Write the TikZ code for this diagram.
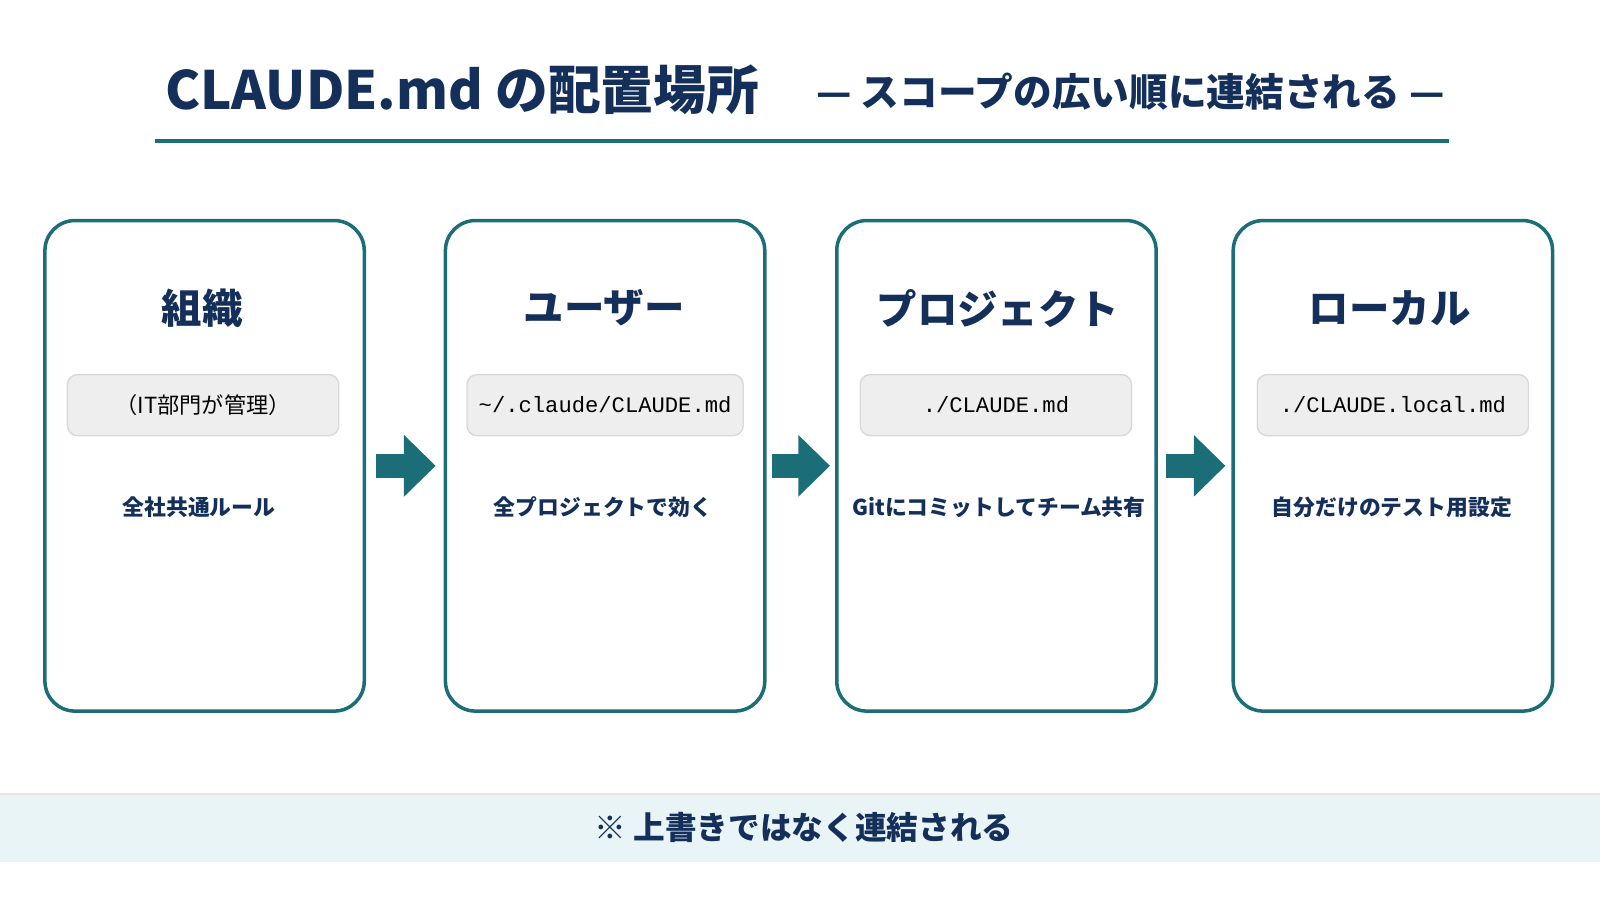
\documentclass[tikz,border=0pt]{standalone}
\usepackage{fontspec}
\setmainfont{Noto Sans CJK JP}
\newfontfamily\codefont{Liberation Mono}
\usetikzlibrary{arrows.meta}
\definecolor{navy}{HTML}{14305A}
\definecolor{teal}{HTML}{1B6E78}
\definecolor{band}{HTML}{E9F4F7}
\definecolor{codebg}{HTML}{EEEEEE}
\tikzset{
  card/.style = {draw = teal, line width = 1pt, rounded corners = 3mm, minimum width = 3.19cm, minimum height = 4.9cm},
  head/.style = {text = navy, font = \fontsize{11.5}{14}\selectfont\bfseries},
  code/.style = {draw = black!15, fill = codebg, rounded corners = 1mm, minimum width = 2.71cm, minimum height = 0.61cm, font = \fontsize{6.3}{8}\selectfont\codefont},
  desc/.style = {text = navy, font = \fontsize{6.2}{8}\selectfont\bfseries},
  flow/.style = {teal, line width = 7pt, -{Triangle[length = 9pt, width = 17pt]}}
}
\begin{document}
\begin{tikzpicture}[x = 0.0102cm, y = -0.0102cm]
\useasboundingbox (0,0) rectangle (1568,882);

% title
\node [text = navy, font = \fontsize{15}{18}\selectfont\bfseries, anchor = west] (t) at (150,88) {CLAUDE.md の配置場所};
\node [text = navy, font = \fontsize{11}{14}\selectfont\bfseries, anchor = west] (s) at (788,90) {— スコープの広い順に連結される —};
\coordinate (ul) at (152,138);
\coordinate (ur) at (1420,138);
\draw [teal, line width = 1pt] (ul) -- (ur);

% cards
\node [card] (b1) at (200.5,456.5) {};
\node [card] (b2) at (593,456.5) {};
\node [card] (b3) at (976.5,456.5) {};
\node [card] (b4) at (1365,456.5) {};

\node [head] (h1) at (198,302) {組織};
\node [head] (h2) at (592,302) {ユーザー};
\node [head] (h3) at (978,302) {プロジェクト};
\node [head] (h4) at (1362,302) {ローカル};

\node [code, font = \fontsize{6.3}{8}\selectfont] (c1) at (199,397) {（IT部門が管理）};
\node [code] (c2) at (593,397) {\~{}/.claude/CLAUDE.md};
\node [code] (c3) at (976,397) {./CLAUDE.md};
\node [code] (c4) at (1365,397) {./CLAUDE.local.md};

\node [desc] (d1) at (195,497) {全社共通ルール};
\node [desc] (d2) at (591,497) {全プロジェクトで効く};
\node [desc] (d3) at (979,497) {Gitにコミットしてチーム共有};
\node [desc] (d4) at (1364,497) {自分だけのテスト用設定};

% arrows
\draw [flow] ([xshift = 0.1cm]b1.east) -- ([xshift = -0.08cm]b2.west);
\draw [flow] ([xshift = 0.05cm]b2.east) -- ([xshift = -0.05cm]b3.west);
\draw [flow] ([xshift = 0.08cm]b3.east) -- ([xshift = -0.06cm]b4.west);

% note band
\fill [band] (0,778) rectangle (1568,845);
\draw [black!10] (0,778) -- (1568,778);
\node [text = navy, font = \fontsize{9}{11}\selectfont\bfseries] (n) at (788,811) {※\ 上書きではなく連結される};
\end{tikzpicture}
\end{document}
